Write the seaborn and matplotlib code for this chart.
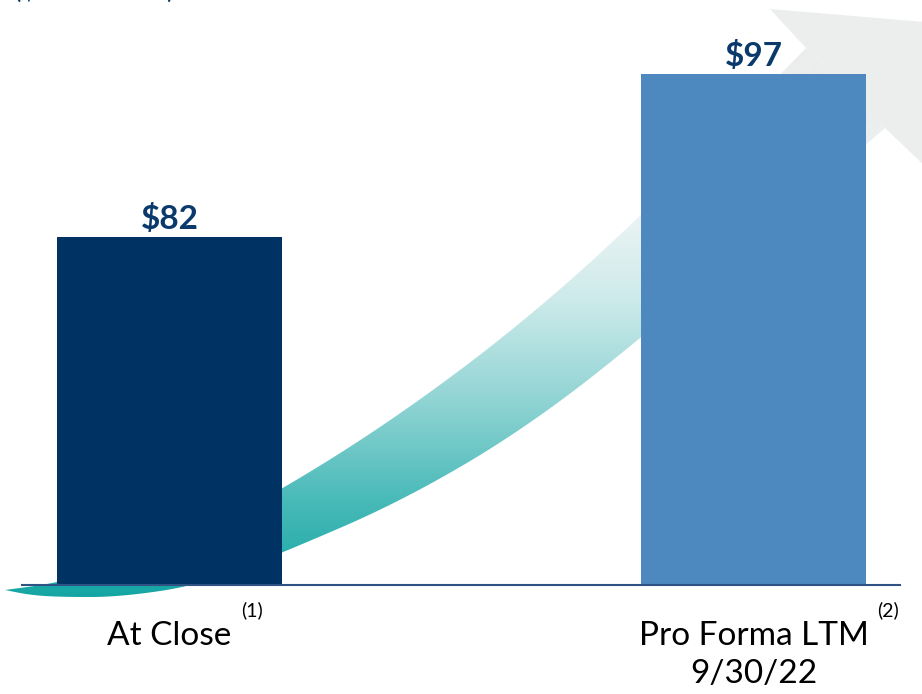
import numpy as np
import matplotlib
matplotlib.use("Agg")
import matplotlib.pyplot as plt
from matplotlib.patches import Polygon
import seaborn as sns

# ---- data ----
categories = ["At Close", "Pro Forma LTM\n9/30/22"]
values = [82, 97]
value_labels = ["$82", "$97"]
footnotes = ["(1)", "(2)"]
bar_colors = ["#003263", "#4d88bf"]
unit_note = "($ in millions)"

sns.set_theme(style="white")
plt.rcParams["font.family"] = ["Lato", "DejaVu Sans"]

W, H = 922, 694
fig = plt.figure(figsize=(W / 100, H / 100), dpi=100, facecolor="white")

# ---- decorative background arrow (pixel coordinates) ----
bg = fig.add_axes([0, 0, 1, 1], zorder=0)
bg.set_xlim(0, W)
bg.set_ylim(H, 0)
bg.axis("off")


def chaikin(pts, n=4):
    pts = np.asarray(pts, float)
    for _ in range(n):
        q = 0.75 * pts[:-1] + 0.25 * pts[1:]
        r = 0.25 * pts[:-1] + 0.75 * pts[1:]
        new = [pts[0]]
        for a, b in zip(q, r):
            new.extend([a, b])
        new.append(pts[-1])
        pts = np.array(new)
    return pts


upper = chaikin([(5, 590), (57, 583), (150, 560), (282, 490), (400, 415),
                 (520, 325), (640, 218), (806, 48)])
lower = chaikin([(5, 590), (30, 595), (60, 597), (120, 597), (200, 585),
                 (282, 553), (400, 502), (520, 432), (640, 340), (885, 128)])
swoosh = np.vstack([upper, lower[::-1]])

yy = np.arange(H)[:, None] * np.ones((1, W))
stops_y = [100, 220, 300, 400, 500, 600]
stops_c = np.array([(236, 238, 238), (234, 243, 243), (205, 234, 234),
                    (145, 212, 212), (72, 186, 184), (18, 165, 163)]) / 255.0
img = np.zeros((H, W, 3))
for k in range(3):
    img[..., k] = np.interp(yy, stops_y, stops_c[:, k])
im = bg.imshow(img, extent=(0, W, H, 0), origin="upper", aspect="auto", zorder=1)
clip = Polygon(swoosh, closed=True, transform=bg.transData, facecolor="none", edgecolor="none")
bg.add_patch(clip)
im.set_clip_path(clip)

head = Polygon([(770, 9), (1020, 30), (950, 190), (885, 128), (806, 48)],
               closed=True, facecolor="#eceeee", edgecolor="none", zorder=1)
bg.add_patch(head)

bg.text(14, -2, unit_note, fontsize=20, color="#0a3a6b", va="baseline", ha="left")

# ---- main chart ----
ax = fig.add_axes([22 / W, 109 / H, (900 - 22) / W, 585 / H], zorder=2)
ax.set_facecolor("none")
sns.barplot(x=categories, y=values, hue=categories, palette=bar_colors,
            width=0.385, saturation=1, legend=False, ax=ax, linewidth=0)
ax.set_xlim((22 - 169.5) / 584, (900 - 169.5) / 584)
ax.set_ylim(50, 50 + 585 / 10.875)
ax.set_yticks([])
ax.set_xlabel("")
ax.set_ylabel("")
for s in ["left", "top", "right"]:
    ax.spines[s].set_visible(False)
ax.spines["bottom"].set_color("#2e5486")
ax.spines["bottom"].set_linewidth(1.5)
ax.tick_params(axis="x", length=0, pad=26, labelsize=24, labelcolor="black")
for t in ax.get_xticklabels():
    t.set_linespacing(1.32)

for cont, lab in zip(ax.containers, value_labels):
    ax.bar_label(cont, labels=[lab], padding=2, fontsize=24, fontweight="bold",
                 color="#0a3a6b")

fig.canvas.draw()
renderer = fig.canvas.get_renderer()
for t, fn in zip(ax.get_xticklabels(), footnotes):
    bb = t.get_window_extent(renderer)
    fig.text((bb.x1 + 9) / W, (bb.y1 + 2) / H, fn, fontsize=14,
             color="black", ha="left", va="bottom")

fig.savefig("out.png", dpi=100, facecolor="white")
